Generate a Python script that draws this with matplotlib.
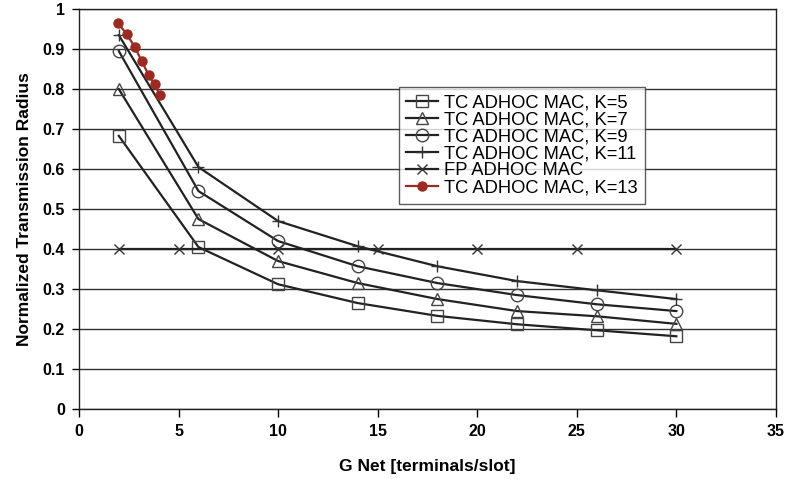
import matplotlib
matplotlib.use('Agg')
import matplotlib.pyplot as plt

plt.rcParams['font.family'] = ['Liberation Sans', 'DejaVu Sans']

# data
g_tc = [2, 6, 10, 14, 18, 22, 26, 30]
k5 = [0.683, 0.405, 0.312, 0.265, 0.233, 0.212, 0.197, 0.182]
k7 = [0.80, 0.475, 0.37, 0.315, 0.275, 0.245, 0.232, 0.213]
k9 = [0.895, 0.545, 0.42, 0.357, 0.315, 0.285, 0.262, 0.245]
k11 = [0.935, 0.605, 0.47, 0.407, 0.357, 0.32, 0.297, 0.275]

g_fp = [2, 5, 10, 15, 20, 25, 30]
fp = [0.4, 0.4, 0.4, 0.4, 0.4, 0.4, 0.4]

g_k13 = [1.95, 2.4, 2.8, 3.15, 3.5, 3.8, 4.05]
k13 = [0.965, 0.9375, 0.905, 0.87, 0.835, 0.8125, 0.785]

xticks = [0, 5, 10, 15, 20, 25, 30, 35]
yticks = [0, 0.1, 0.2, 0.3, 0.4, 0.5, 0.6, 0.7, 0.8, 0.9, 1]

fig = plt.figure(figsize=(7.86, 4.79), dpi=100)
ax = fig.add_axes([0.1005, 0.146, 0.8867, 0.835])

lc = '#222222'
ax.plot(g_tc, k5, color=lc, lw=1.6, marker='s', ms=8.5, mfc='none', mec='#444444', mew=1.0, label='TC ADHOC MAC, K=5')
ax.plot(g_tc, k7, color=lc, lw=1.6, marker='^', ms=9, mfc='none', mec='#444444', mew=1.0, label='TC ADHOC MAC, K=7')
ax.plot(g_tc, k9, color=lc, lw=1.6, marker='o', ms=9, mfc='none', mec='#444444', mew=1.0, label='TC ADHOC MAC, K=9')
ax.plot(g_tc, k11, color=lc, lw=1.6, marker='+', ms=9, mec='#333333', mew=1.0, label='TC ADHOC MAC, K=11')
ax.plot(g_fp, fp, color=lc, lw=1.6, marker='x', ms=7, mec='#333333', mew=1.0, label='FP ADHOC MAC')
ax.plot(g_k13, k13, color='#9b2a22', lw=1.6, marker='o', ms=6.5, mfc='#9b2a22', mec='#9b2a22', label='TC ADHOC MAC, K=13')

ax.set_xlim(0, 35)
ax.set_ylim(0, 1)
ax.set_xticks(xticks)
ax.set_yticks(yticks)
ax.set_yticklabels([('%g' % v) for v in yticks])
ax.yaxis.grid(True, color='#333333', lw=1.0)
ax.set_axisbelow(True)
for s in ax.spines.values():
    s.set_color('#222222')
    s.set_linewidth(1.0)
ax.tick_params(axis='x', direction='out', length=6, width=1, labelsize=11.5, pad=5)
ax.tick_params(axis='y', direction='out', length=5, width=1, labelsize=11.5, pad=5)
for lab in ax.get_xticklabels() + ax.get_yticklabels():
    lab.set_fontweight('bold')

ax.set_xlabel('G Net [terminals/slot]', fontsize=12.5, fontweight='bold', labelpad=14)
ax.set_ylabel('Normalized Transmission Radius', fontsize=12.5, fontweight='bold', labelpad=8)

leg = ax.legend(loc='upper left', bbox_to_anchor=(0.459, 0.805), fontsize=13.2, frameon=True,
                fancybox=False, edgecolor='#333333', handlelength=1.75, handletextpad=0.3,
                labelspacing=0.0, borderpad=0.4, borderaxespad=0)
leg.get_frame().set_linewidth(1.0)

fig.savefig('out.png', dpi=100)
